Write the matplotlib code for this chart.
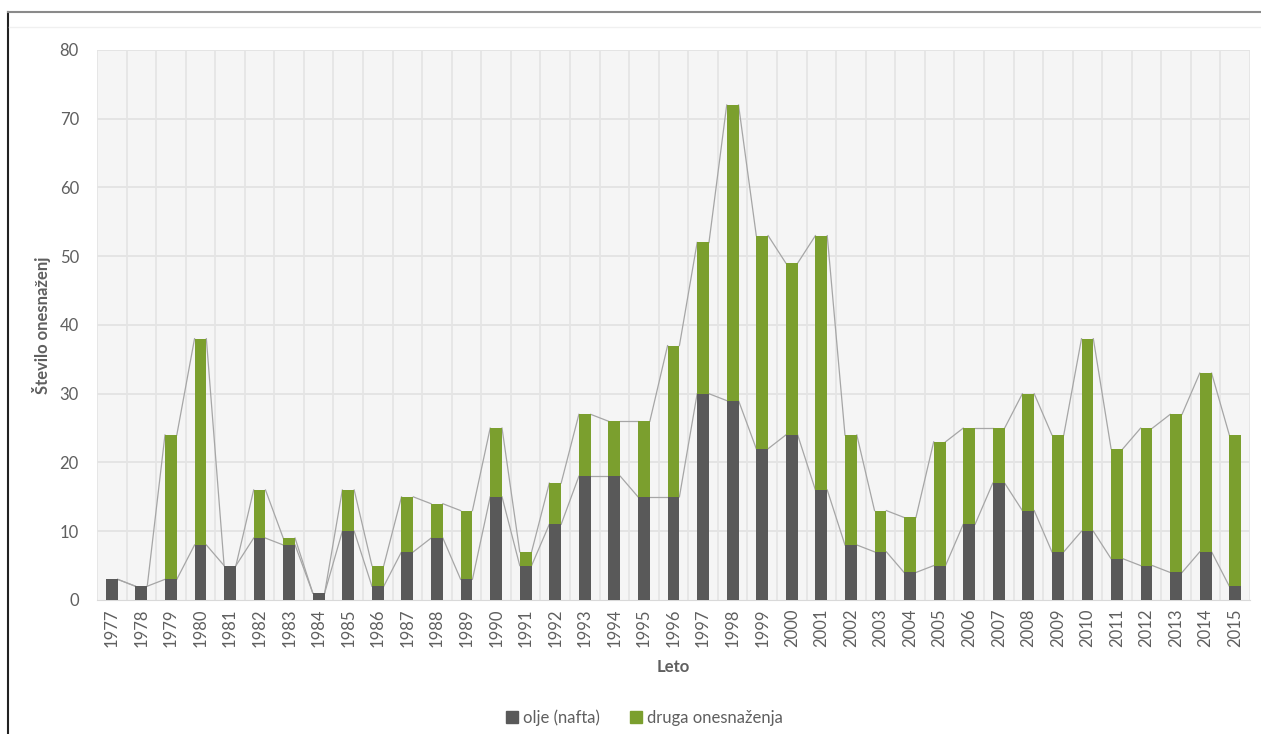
import matplotlib
matplotlib.use("Agg")
import matplotlib.pyplot as plt
from matplotlib.lines import Line2D
import numpy as np

years = list(range(1977, 2016))
oil = [3, 2, 3, 8, 5, 9, 8, 1, 10, 2, 7, 9, 3, 15, 5, 11, 18, 18, 15, 15,
       30, 29, 22, 24, 16, 8, 7, 4, 5, 11, 17, 13, 7, 10, 6, 5, 4, 7, 2]
total = [3, 2, 24, 38, 5, 16, 9, 1, 16, 5, 15, 14, 13, 25, 7, 17, 27, 26, 26, 37,
         52, 72, 53, 49, 53, 24, 13, 12, 23, 25, 25, 30, 24, 38, 22, 25, 27, 33, 24]
other = [t - o for t, o in zip(total, oil)]

labels = ["olje (nafta)", "druga onesnaženja"]
c_oil = "#595959"
c_other = "#7b9f2e"
text_c = "#5f5f5f"

plt.rcParams["font.family"] = ["Lato", "DejaVu Sans"]

fig = plt.figure(figsize=(12.61, 7.34), dpi=100)
ax = fig.add_axes([0.0769, 0.1826, 0.9144, 0.7493])

x = np.arange(len(years))
w = 0.4
ax.bar(x, oil, width=w, color=c_oil, zorder=3, label=labels[0])
ax.bar(x, other, width=w, bottom=oil, color=c_other, zorder=3, label=labels[1])

# series lines joining the tops of neighbouring bar segments
for series in (oil, total):
    for i in range(len(x) - 1):
        ax.plot([x[i] + w / 2, x[i + 1] - w / 2], [series[i], series[i + 1]],
                color="#a6a6a6", lw=0.9, zorder=2)

ax.set_xlim(-0.5, len(years) - 0.5)
ax.set_ylim(0, 80)
ax.set_yticks(range(0, 81, 10))
ax.set_xticks(x)
ax.set_xticklabels([str(y) for y in years], rotation=90)
ax.set_facecolor("#f5f5f5")

for v in range(10, 81, 10):
    ax.axhline(v, color="#e3e3e3", lw=1.3, zorder=1)
for b in np.arange(-0.5, len(years) + 0.5, 1.0):
    ax.axvline(b, color="#e5e5e5", lw=1.3, zorder=1)

for s in ax.spines.values():
    s.set_visible(False)
ax.spines["bottom"].set_visible(True)
ax.spines["bottom"].set_color("#d9d9d9")
ax.tick_params(axis="both", length=0, colors=text_c, labelsize=12)
ax.tick_params(axis="y", pad=13)
ax.tick_params(axis="x", pad=6)

ax.set_xlabel("Leto", fontsize=12, fontweight="bold", color=text_c, labelpad=9)
ax.set_ylabel("Število onesnaženj", fontsize=12, fontweight="bold", color=text_c, labelpad=6)

handles = [Line2D([], [], marker="s", linestyle="none", markersize=8,
                  markerfacecolor=c, markeredgecolor=c) for c in (c_oil, c_other)]
fig.legend(handles, labels, loc="center", bbox_to_anchor=(0.511, 1 - 718 / 734),
           ncol=2, frameon=False, fontsize=12, labelcolor=text_c,
           handlelength=0.7, handletextpad=0.3, columnspacing=1.8)

# outer frame: dark left edge, grey top edge, faint inner rule
fig.add_artist(Line2D([8 / 1261, 8 / 1261], [0, 1 - 12 / 734], color="#222222", lw=1.5))
fig.add_artist(Line2D([8 / 1261, 1], [1 - 12 / 734, 1 - 12 / 734], color="#8a8a8a", lw=1.5))
fig.add_artist(Line2D([9 / 1261, 1], [1 - 27 / 734, 1 - 27 / 734], color="#f0f0f0", lw=1.0))

fig.savefig("out.png", dpi=100, facecolor="white")
